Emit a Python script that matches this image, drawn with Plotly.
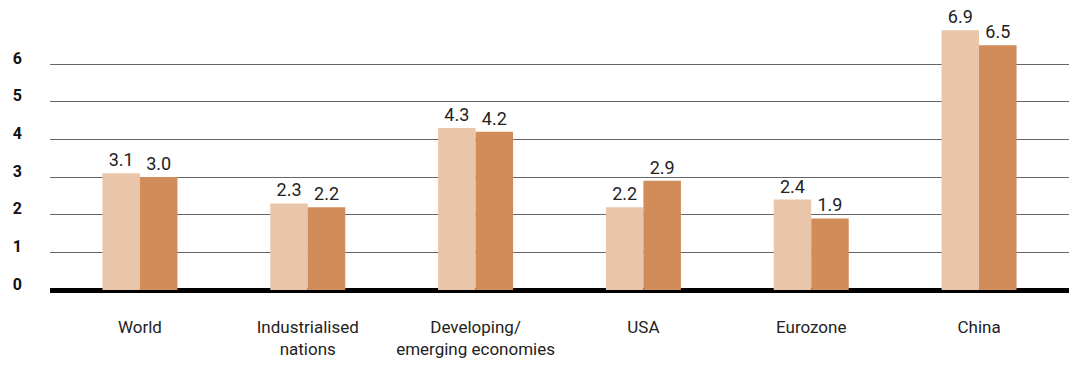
import plotly.graph_objects as go

categories = ["World", "Industrialised<br>nations", "Developing/<br>emerging economies", "USA", "Eurozone", "China"]
series_a = [3.1, 2.3, 4.3, 2.2, 2.4, 6.9]
series_b = [3.0, 2.2, 4.2, 2.9, 1.9, 6.5]
labels_a = ["3.1", "2.3", "4.3", "2.2", "2.4", "6.9"]
labels_b = ["3.0", "2.2", "4.2", "2.9", "1.9", "6.5"]
y_ticks = [0, 1, 2, 3, 4, 5, 6]

font_family = "Roboto"
x_idx = list(range(len(categories)))

fig = go.Figure()
fig.add_trace(go.Bar(x=x_idx, y=series_a, marker=dict(color="#E9C5A9", line=dict(width=0)),
                     text=labels_a, textposition="outside", cliponaxis=False,
                     textfont=dict(size=18, color="#222222", family=font_family)))
fig.add_trace(go.Bar(x=x_idx, y=series_b, marker=dict(color="#D18C59", line=dict(width=0)),
                     text=labels_b, textposition="outside", cliponaxis=False,
                     textfont=dict(size=18, color="#222222", family=font_family)))

fig.update_layout(
    width=1069, height=365,
    margin=dict(l=50, r=0, t=0, b=75),
    paper_bgcolor="white", plot_bgcolor="white",
    barmode="group", bargap=0.553, bargroupgap=0,
    showlegend=False,
    font=dict(family=font_family, color="#222222"),
    uniformtext=dict(mode=False),
)
fig.update_xaxes(
    range=[-0.536, 5.536],
    tickmode="array", tickvals=x_idx, ticktext=categories,
    tickfont=dict(size=17, color="#222222", family=font_family),
    showgrid=False, showline=False, zeroline=False, ticks="",
    ticklabelstandoff=25,
)
fig.update_yaxes(
    range=[0, 7.7],
    tickmode="array", tickvals=y_ticks, ticktext=[str(v) for v in y_ticks],
    tickfont=dict(size=16, color="#111111", family=font_family, weight="bold"),
    showgrid=True, gridcolor="#666666", gridwidth=1,
    zeroline=True, zerolinecolor="#000000", zerolinewidth=5,
    showline=False, ticks="",
    ticklabelstandoff=27, ticklabelshift=-6,
)

fig.write_html("out.html")
